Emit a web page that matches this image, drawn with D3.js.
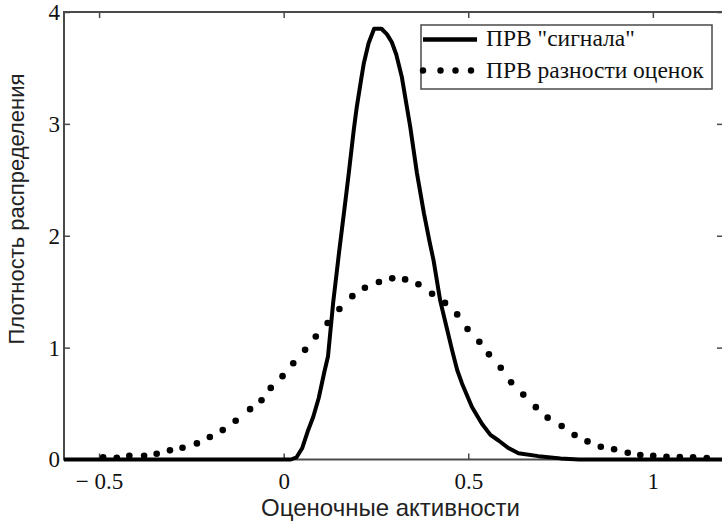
<!DOCTYPE html>
<html><head><meta charset="utf-8">
<script src="https://cdn.jsdelivr.net/npm/d3@7/dist/d3.min.js"></script>
<style>
html,body{margin:0;padding:0;background:#fff;}
svg{display:block;}
</style></head>
<body>
<svg id="c" width="722" height="521"></svg>
<script>
// ---- data ----
const signalX = [-0.6,0.02,0.035,0.05,0.065,0.08,0.095,0.11,0.12,0.134,0.15,0.165,0.176,0.19,0.198,0.21,0.217,0.23,0.245,0.265,0.28,0.293,0.305,0.32,0.343,0.361,0.38,0.395,0.406,0.424,0.44,0.456,0.47,0.483,0.51,0.537,0.56,0.582,0.61,0.636,0.69,0.75,0.8,1.2];
const signalY = [0,0,0.02,0.1,0.25,0.38,0.55,0.78,0.92,1.4,1.85,2.25,2.55,2.95,3.15,3.4,3.54,3.72,3.85,3.85,3.8,3.73,3.62,3.42,2.97,2.56,2.2,1.95,1.78,1.42,1.2,0.98,0.8,0.68,0.47,0.32,0.22,0.17,0.1,0.055,0.03,0.01,0,0];
const diffX = [-0.489,-0.452,-0.418,-0.378,-0.344,-0.308,-0.274,-0.235,-0.200,-0.165,-0.130,-0.091,-0.060,-0.035,-0.003,0.026,0.058,0.087,0.119,0.151,0.186,0.220,0.258,0.294,0.329,0.365,0.402,0.437,0.470,0.498,0.530,0.556,0.588,0.616,0.649,0.683,0.715,0.753,0.788,0.823,0.859,0.895,0.932,0.966,1.001,1.037,1.073,1.109,1.146];
const diffY = [0.02,0.016,0.033,0.033,0.052,0.082,0.105,0.144,0.201,0.263,0.347,0.45,0.53,0.64,0.745,0.86,0.98,1.10,1.22,1.345,1.46,1.535,1.586,1.619,1.61,1.566,1.482,1.40,1.297,1.166,1.053,0.94,0.82,0.69,0.58,0.468,0.374,0.30,0.219,0.162,0.114,0.091,0.061,0.040,0.034,0.025,0.022,0.02,0.013];
const xTicks = [-0.5, 0, 0.5, 1];
const xTickLabels = ["\u2212 0.5", "0", "0.5", "1"];
const yTicks = [0, 1, 2, 3, 4];
const seriesNames = ["ПРВ \"сигнала\"", "ПРВ разности оценок"];
const xTitle = "Оценочные активности";
const yTitle = "Плотность распределения";

// ---- layout ----
const L = 64, R = 723, T = 12, B = 459.5;
const svg = d3.select("#c");
const x = d3.scaleLinear().domain([-0.595, 1.19]).range([L, R]);
const y = d3.scaleLinear().domain([0, 4]).range([B, T]);
const axisColor = "#4a4a4a";
const serif = "'Liberation Serif','Times New Roman',serif";
const sans = "'Liberation Sans',Arial,sans-serif";

// frame
svg.append("rect").attr("x", L).attr("y", T).attr("width", R - L).attr("height", B - T)
  .attr("fill", "none").attr("stroke", axisColor).attr("stroke-width", 2);

function styleAxis(g){
  g.select(".domain").remove();
  g.selectAll(".tick line").attr("stroke", axisColor).attr("stroke-width", 1.5);
  g.selectAll(".tick text").attr("fill", "#111").style("font-family", serif).style("font-size", "23px");
}
// bottom
svg.append("g").attr("transform", `translate(0,${B})`)
  .call(d3.axisBottom(x).tickValues(xTicks).tickSize(-6).tickPadding(13).tickFormat((d,i)=>xTickLabels[i]))
  .call(styleAxis);
// top
svg.append("g").attr("transform", `translate(0,${T})`)
  .call(d3.axisTop(x).tickValues(xTicks).tickSize(-6).tickFormat(""))
  .call(styleAxis);
// left
svg.append("g").attr("transform", `translate(${L},0)`)
  .call(d3.axisLeft(y).tickValues(yTicks).tickSize(-6).tickPadding(4).tickFormat(d3.format("d")))
  .call(styleAxis);
// right
svg.append("g").attr("transform", `translate(${R},0)`)
  .call(d3.axisRight(y).tickValues(yTicks).tickSize(-6).tickFormat(""))
  .call(styleAxis);

// clip
svg.append("clipPath").attr("id","clip").append("rect")
  .attr("x", L).attr("y", T).attr("width", R - L).attr("height", B - T + 3);

// signal curve
const sig = signalX.map((v,i)=>[v, signalY[i]]);
svg.append("path").datum(sig).attr("clip-path","url(#clip)")
  .attr("d", d3.line().x(d=>x(d[0])).y(d=>y(d[1])))
  .attr("fill","none").attr("stroke","#000").attr("stroke-width",4).attr("stroke-linejoin","round");

// difference dots
const dif = diffX.map((v,i)=>[v, diffY[i]]);
svg.append("g").selectAll("circle").data(dif).join("circle")
  .attr("cx", d=>x(d[0])).attr("cy", d=>y(d[1])).attr("r", 3.3).attr("fill","#000");

// legend
const lg = svg.append("g");
lg.append("rect").attr("x", 421).attr("y", 25).attr("width", 291).attr("height", 64)
  .attr("fill","#fff").attr("stroke", axisColor).attr("stroke-width", 1.5);
lg.append("line").attr("x1", 423).attr("x2", 477).attr("y1", 39.5).attr("y2", 39.5)
  .attr("stroke","#000").attr("stroke-width", 4.5);
lg.selectAll("circle.l").data([423, 440.5, 455.5, 471]).join("circle")
  .attr("cx", d=>d).attr("cy", 70.5).attr("r", 3.2).attr("fill", "#000");
lg.selectAll("text").data(seriesNames).join("text")
  .attr("x", 486).attr("y", (d,i)=> i===0 ? 45.5 : 78)
  .attr("fill","#111").style("font-family", serif).style("font-size","23.5px").text(d=>d);

// axis titles
svg.append("text").attr("x", (L+R)/2 - 3).attr("y", 516).attr("text-anchor","middle")
  .attr("fill","#222").style("font-family", sans).style("font-size","24px").text(xTitle);
svg.append("text").attr("transform", `translate(24,209) rotate(-90)`).attr("text-anchor","middle")
  .attr("fill","#222").style("font-family", sans).style("font-size","22px").text(yTitle);
</script>
</body></html>
